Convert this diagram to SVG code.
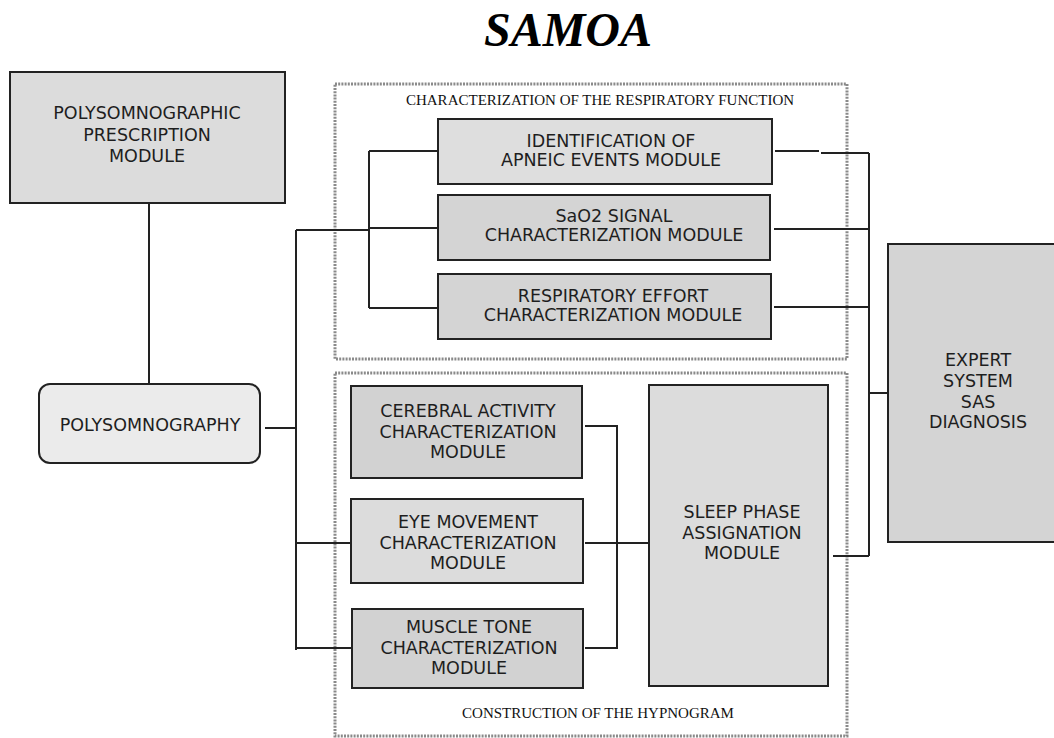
<svg xmlns="http://www.w3.org/2000/svg" width="1054" height="738" viewBox="0 0 1054 738">
<style>
.box{stroke:#222;stroke-width:2}
.t{font-family:"DejaVu Sans","Liberation Sans",sans-serif;font-size:17.5px;fill:#1e1e1e;text-anchor:middle}
.lbl{font-family:"Liberation Serif",serif;font-size:15px;fill:#111;text-anchor:middle}
.dot{fill:none;stroke:#8a8a8a;stroke-width:3;stroke-dasharray:2 1.2}
.c{fill:none;stroke:#222;stroke-width:2}
</style>
<rect width="1054" height="738" fill="#fff"/>
<text x="568" y="46" font-family="Liberation Serif,serif" font-size="48" font-weight="bold" font-style="italic" text-anchor="middle" fill="#000">SAMOA</text>

<g id="group-respiratory">
<rect class="dot" x="335" y="84" width="512" height="275"/>
<text class="lbl" x="600" y="105">CHARACTERIZATION OF THE RESPIRATORY FUNCTION</text>
</g>
<g id="group-hypnogram">
<rect class="dot" x="335" y="373" width="512" height="363"/>
<text class="lbl" x="598" y="718">CONSTRUCTION OF THE HYPNOGRAM</text>
</g>

<g id="connectors">
<path class="c" d="M149 203V384"/>
<path class="c" d="M265 428H296M296 230V650M296 230H369M369 151V308M369 151H438M369 228H438M369 308H438"/>
<path class="c" d="M296 543H351M296 648H352"/>
<path class="c" d="M585 426H617V648H585M585 543H649"/>
<path class="c" d="M775 151H819M821 153H869M869 153V556M774 229H869M774 307H869M833 556H869M870 393H888"/>
</g>

<g id="n-prescription">
<rect class="box" x="10" y="72" width="275" height="131" fill="#dcdcdc"/>
<text class="t" x="147" y="119">POLYSOMNOGRAPHIC</text>
<text class="t" x="147" y="141">PRESCRIPTION</text>
<text class="t" x="147" y="162">MODULE</text>
</g>
<g id="n-polysomnography">
<rect class="box" x="39" y="384" width="221" height="79" rx="11" fill="#ebebeb"/>
<text class="t" x="150" y="431">POLYSOMNOGRAPHY</text>
</g>
<g id="n-apneic">
<rect class="box" x="438" y="119" width="334" height="65" fill="#dedede"/>
<text class="t" x="611" y="147">IDENTIFICATION OF</text>
<text class="t" x="611" y="166">APNEIC EVENTS MODULE</text>
</g>
<g id="n-sao2">
<rect class="box" x="438" y="195" width="332" height="65" fill="#d4d4d4"/>
<text class="t" x="614" y="222">SaO2 SIGNAL</text>
<text class="t" x="614" y="241">CHARACTERIZATION MODULE</text>
</g>
<g id="n-effort">
<rect class="box" x="438" y="274" width="333" height="65" fill="#d4d4d4"/>
<text class="t" x="613" y="302">RESPIRATORY EFFORT</text>
<text class="t" x="613" y="321">CHARACTERIZATION MODULE</text>
</g>
<g id="n-cerebral">
<rect class="box" x="351" y="386" width="231" height="92" fill="#d2d2d2"/>
<text class="t" x="468" y="417">CEREBRAL ACTIVITY</text>
<text class="t" x="468" y="438">CHARACTERIZATION</text>
<text class="t" x="468" y="458">MODULE</text>
</g>
<g id="n-eye">
<rect class="box" x="351" y="499" width="232" height="84" fill="#dcdcdc"/>
<text class="t" x="468" y="528">EYE MOVEMENT</text>
<text class="t" x="468" y="549">CHARACTERIZATION</text>
<text class="t" x="468" y="569">MODULE</text>
</g>
<g id="n-muscle">
<rect class="box" x="352" y="609" width="231" height="79" fill="#d2d2d2"/>
<text class="t" x="469" y="633">MUSCLE TONE</text>
<text class="t" x="469" y="654">CHARACTERIZATION</text>
<text class="t" x="469" y="674">MODULE</text>
</g>
<g id="n-sleep">
<rect class="box" x="649" y="385" width="179" height="301" fill="#dcdcdc"/>
<text class="t" x="742" y="518">SLEEP PHASE</text>
<text class="t" x="742" y="539">ASSIGNATION</text>
<text class="t" x="742" y="559">MODULE</text>
</g>
<g id="n-expert">
<rect class="box" x="888" y="244" width="170" height="298" fill="#d4d4d4"/>
<text class="t" x="978" y="366">EXPERT</text>
<text class="t" x="978" y="387">SYSTEM</text>
<text class="t" x="978" y="408">SAS</text>
<text class="t" x="978" y="428">DIAGNOSIS</text>
</g>
</svg>
